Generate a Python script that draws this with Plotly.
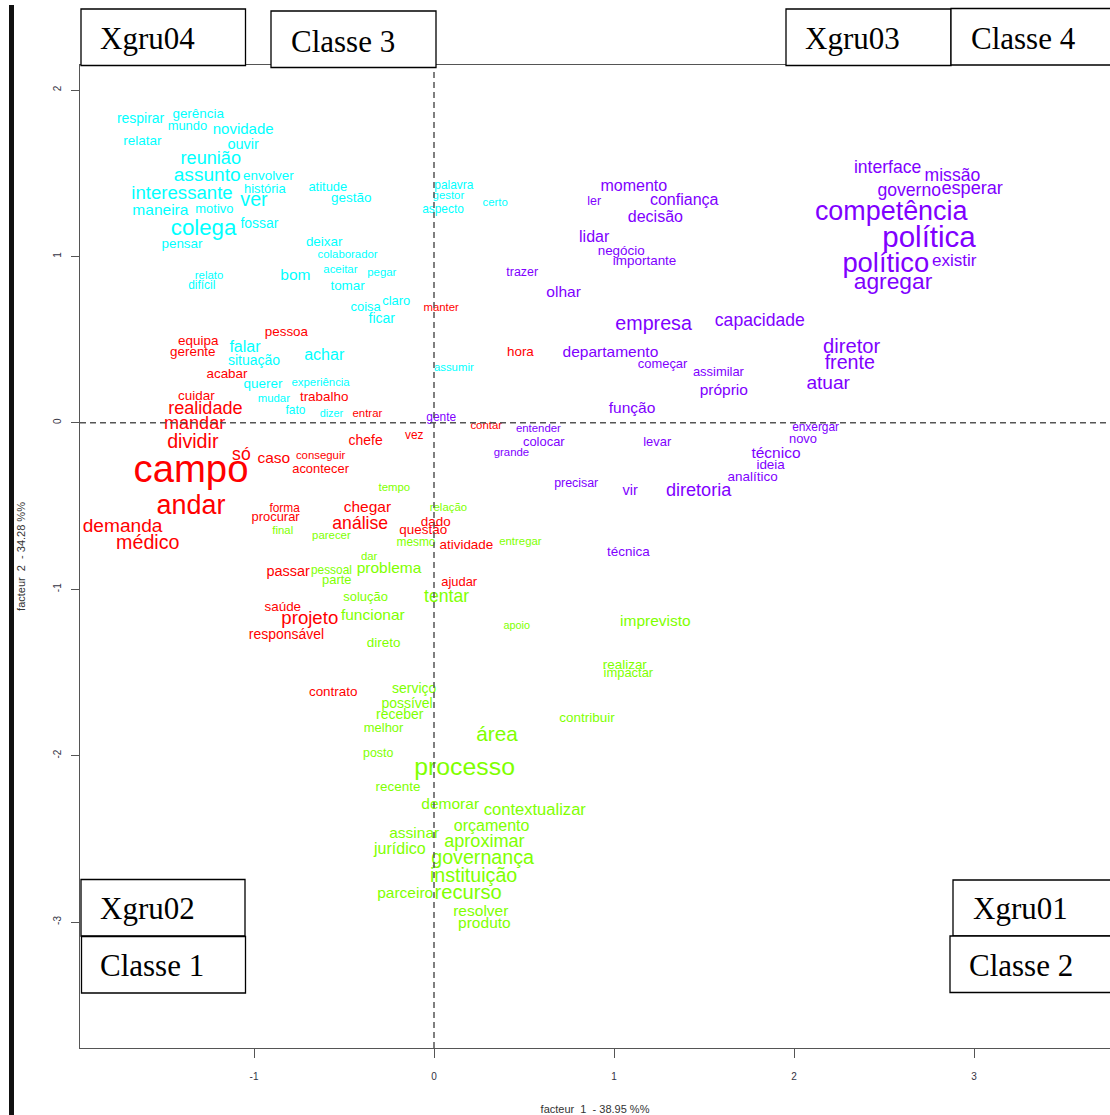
import plotly.graph_objects as go

# ---------------- data (correspondence analysis coordinates) ----------------
# Classe 1 (red)
c1_words = ["manter", "pessoa", "equipa", "gerente", "acabar", "hora", "cuidar", "trabalho",
            "realidade", "entrar", "mandar", "dividir", "vez", "chefe", "contar", "só", "caso",
            "conseguir", "acontecer", "campo", "andar", "forma", "procurar", "chegar", "demanda",
            "análise", "dado", "questão", "médico", "atividade", "passar", "ajudar", "saúde",
            "projeto", "responsável", "contrato"]
c1_x = [0.04, -0.82, -1.31, -1.34, -1.15, 0.48, -1.32, -0.61,
        -1.27, -0.37, -1.33, -1.34, -0.11, -0.38, 0.29, -1.07, -0.89,
        -0.63, -0.63, -1.35, -1.35, -0.83, -0.88, -0.37, -1.73,
        -0.41, 0.01, -0.06, -1.59, 0.18, -0.81, 0.14, -0.84,
        -0.69, -0.82, -0.56]
c1_y = [0.69, 0.54, 0.49, 0.42, 0.29, 0.42, 0.16, 0.15,
        0.08, 0.05, -0.01, -0.12, -0.08, -0.11, -0.02, -0.20, -0.22,
        -0.20, -0.28, -0.30, -0.51, -0.52, -0.57, -0.51, -0.63,
        -0.61, -0.60, -0.65, -0.73, -0.74, -0.90, -0.96, -1.11,
        -1.18, -1.28, -1.62]
c1_size = [11, 13, 13, 13, 13, 13, 13, 13,
           17.5, 11, 17.5, 19, 11.5, 13.5, 11, 17, 15,
           11, 12.5, 37, 26, 11.5, 12.5, 15, 18.5,
           17, 13, 13, 19, 13, 14, 12.5, 13,
           18, 13.5, 13]

# Classe 2 (green)
c2_words = ["tempo", "relação", "final", "parecer", "mesmo", "entregar", "dar", "pessoal",
            "problema", "parte", "solução", "tentar", "funcionar", "apoio", "imprevisto",
            "direto", "realizar", "impactar", "serviço", "possível", "receber", "melhor",
            "contribuir", "área", "posto", "processo", "recente", "demorar", "contextualizar",
            "orçamento", "assinar", "aproximar", "jurídico", "governança", "instituição",
            "parceiro", "recurso", "resolver", "produto"]
c2_x = [-0.22, 0.08, -0.84, -0.57, -0.10, 0.48, -0.36, -0.57,
        -0.25, -0.54, -0.38, 0.07, -0.34, 0.46, 1.23,
        -0.28, 1.06, 1.08, -0.11, -0.15, -0.19, -0.28,
        0.85, 0.35, -0.31, 0.17, -0.20, 0.09, 0.56,
        0.32, -0.11, 0.28, -0.19, 0.27, 0.22,
        -0.16, 0.19, 0.26, 0.28]
c2_y = [-0.39, -0.51, -0.65, -0.68, -0.72, -0.72, -0.81, -0.89,
        -0.88, -0.95, -1.05, -1.05, -1.16, -1.22, -1.20,
        -1.33, -1.46, -1.51, -1.60, -1.69, -1.76, -1.84,
        -1.78, -1.88, -1.99, -2.08, -2.19, -2.30, -2.33,
        -2.43, -2.47, -2.52, -2.57, -2.62, -2.73,
        -2.83, -2.83, -2.94, -3.01]
c2_size = [11, 11, 11, 11, 11.5, 11, 11, 11.5,
           15, 12.5, 12.5, 17, 15, 10.5, 15,
           13, 13, 12.5, 13.5, 13.5, 13.5, 12.5,
           13, 20, 12, 24, 13, 15, 16,
           15.5, 15, 17.5, 15.5, 19, 19,
           15, 19.5, 15, 15]

# Classe 3 (cyan)
c3_words = ["respirar", "gerência", "mundo", "novidade", "relatar", "ouvir", "reunião",
            "assunto", "envolver", "história", "atitude", "interessante", "gestão", "ver",
            "maneira", "motivo", "colega", "fossar", "pensar", "deixar", "colaborador",
            "aceitar", "pegar", "relato", "difícil", "bom", "tomar", "claro", "coisa",
            "ficar", "falar", "situação", "achar", "assumir", "querer", "experiência",
            "mudar", "fato", "dizer", "palavra", "gestor", "aspecto", "certo"]
c3_x = [-1.63, -1.31, -1.37, -1.06, -1.62, -1.06, -1.24,
        -1.26, -0.92, -0.94, -0.59, -1.40, -0.46, -1.00,
        -1.52, -1.22, -1.28, -0.97, -1.40, -0.61, -0.48,
        -0.52, -0.29, -1.25, -1.29, -0.77, -0.48, -0.21, -0.38,
        -0.29, -1.05, -1.00, -0.61, 0.11, -0.95, -0.63,
        -0.89, -0.77, -0.57, 0.11, 0.08, 0.05, 0.34]
c3_y = [1.82, 1.85, 1.78, 1.76, 1.69, 1.67, 1.58,
        1.48, 1.48, 1.40, 1.41, 1.37, 1.35, 1.33,
        1.27, 1.28, 1.16, 1.19, 1.07, 1.08, 1.01,
        0.92, 0.90, 0.88, 0.82, 0.88, 0.82, 0.73, 0.69,
        0.62, 0.45, 0.37, 0.40, 0.33, 0.23, 0.24,
        0.14, 0.07, 0.05, 1.42, 1.36, 1.28, 1.32]
c3_size = [13.5, 13, 12.5, 14.5, 13, 14, 17.5,
           18.5, 13, 12.5, 12.5, 18, 13, 19,
           15, 12.5, 21.5, 13.5, 13, 13, 11,
           11, 11, 11, 11.5, 15, 13, 12.5, 12.5,
           13.5, 15.5, 13.5, 15.5, 11, 13, 11,
           11, 11.5, 10.5, 11.5, 11, 11.5, 11]

# Classe 4 (purple)
c4_words = ["momento", "ler", "confiança", "decisão", "lidar", "negócio", "importante",
            "trazer", "olhar", "empresa", "capacidade", "departamento", "começar",
            "assimilar", "próprio", "função", "gente", "entender", "colocar", "grande",
            "levar", "enxergar", "novo", "técnico", "ideia", "analítico", "precisar", "vir",
            "diretoria", "técnica", "interface", "missão", "governo", "esperar",
            "competência", "política", "político", "existir", "agregar", "diretor",
            "frente", "atuar"]
c4_x = [1.11, 0.89, 1.39, 1.23, 0.89, 1.04, 1.17,
        0.49, 0.72, 1.22, 1.81, 0.98, 1.27,
        1.58, 1.61, 1.10, 0.04, 0.58, 0.61, 0.43,
        1.24, 2.12, 2.05, 1.90, 1.87, 1.77, 0.79, 1.09,
        1.47, 1.08, 2.52, 2.88, 2.64, 2.99,
        2.54, 2.75, 2.51, 2.89, 2.55, 2.32,
        2.31, 2.19]
c4_y = [1.42, 1.33, 1.33, 1.23, 1.11, 1.03, 0.97,
        0.90, 0.78, 0.59, 0.61, 0.42, 0.35,
        0.30, 0.19, 0.08, 0.03, -0.04, -0.12, -0.18,
        -0.12, -0.03, -0.10, -0.19, -0.26, -0.33, -0.37, -0.41,
        -0.41, -0.78, 1.53, 1.48, 1.39, 1.40,
        1.26, 1.10, 0.95, 0.97, 0.84, 0.45,
        0.35, 0.23]
c4_size = [15.5, 12, 15.5, 15.5, 15.5, 13, 13,
           12, 15, 19, 17, 15, 12.5,
           12.5, 15, 15, 11.5, 11, 12.5, 11,
           12.5, 11.5, 12.5, 15, 13, 13, 12, 14,
           17.5, 13, 17, 17, 17, 17.5,
           26, 28.5, 26.5, 16.5, 22, 19.5,
           19, 18.5]

x_ticks = [-1, 0, 1, 2, 3]
y_ticks = [-3, -2, -1, 0, 1, 2]
x_title = "facteur  1  - 38.95 %%"
y_title = "facteur  2  - 34.28 %%"

group_labels = ["Xgru04", "Classe 3", "Xgru03", "Classe 4",
                "Xgru02", "Classe 1", "Xgru01", "Classe 2"]

# ---------------- figure ----------------
W, H = 1110, 1115
ML, MR, MT, MB = 80, 0, 65, 67
PW, PH = W - ML - MR, H - MT - MB
SIZE_SCALE = 1.035

WORD_FONT = "Liberation Sans, Arial, sans-serif"
classes = [
    (c1_words, c1_x, c1_y, c1_size, "#FF0000"),
    (c2_words, c2_x, c2_y, c2_size, "#80FF00"),
    (c3_words, c3_x, c3_y, c3_size, "#00FFFF"),
    (c4_words, c4_x, c4_y, c4_size, "#8000FF"),
]

fig = go.Figure()
for words, xs, ys, sizes, col in classes:
    fig.add_trace(go.Scatter(
        x=xs, y=ys, mode="text", text=words,
        textposition="middle center",
        textfont=dict(size=[s * SIZE_SCALE for s in sizes], color=col, family=WORD_FONT),
        hoverinfo="skip", showlegend=False, cliponaxis=False,
    ))


def px_x(p):
    return (p - ML) / PW


def px_y(p):
    return (H - MB - p) / PH


shapes = []
# dashed reference lines
shapes.append(dict(type="line", xref="x", yref="paper", x0=0, x1=0, y0=0, y1=1,
                   line=dict(color="#555555", width=1.5, dash="6px,4px"), layer="above"))
shapes.append(dict(type="line", xref="paper", yref="y", x0=0, x1=1, y0=0, y1=0,
                   line=dict(color="#555555", width=1.5, dash="6px,4px"), layer="above"))
# black bar at far left
shapes.append(dict(type="rect", xref="paper", yref="paper",
                   x0=px_x(9), x1=px_x(14), y0=px_y(1115), y1=px_y(5),
                   fillcolor="#111111", line=dict(width=0), layer="above"))

# label boxes: (left, top, right, bottom, text_left, text_center_y)
boxes = [
    (81, 9, 245.5, 65.5, 98, 38.5),
    (271, 11, 436, 67.5, 288.5, 41.5),
    (786, 9, 951, 65.5, 803, 38.5),
    (951, 8.5, 1115, 65, 969, 38),
    (81, 879.5, 245, 936, 97.5, 908.5),
    (81.5, 936.5, 245.5, 993, 98, 965),
    (953, 880, 1115, 936, 971, 908.5),
    (950, 936, 1115, 992.5, 967, 965),
]
annotations = []
for (l, t, r, b, tx, ty), lab in zip(boxes, group_labels):
    shapes.append(dict(type="rect", xref="paper", yref="paper",
                       x0=px_x(l), x1=px_x(r), y0=px_y(b), y1=px_y(t),
                       fillcolor="white", line=dict(color="#000000", width=1.3),
                       layer="above"))
    annotations.append(dict(xref="paper", yref="paper", x=px_x(tx), y=px_y(ty),
                            xanchor="left", yanchor="middle", text=lab, showarrow=False,
                            font=dict(family="Liberation Serif, Times New Roman, serif",
                                      size=31, color="#000000")))

fig.update_layout(
    width=W, height=H,
    margin=dict(l=ML, r=MR, t=MT, b=MB, pad=0),
    paper_bgcolor="white", plot_bgcolor="white",
    shapes=shapes, annotations=annotations,
    font=dict(family=WORD_FONT, color="#333333"),
)
fig.update_xaxes(
    range=[(ML - 434) / 180, (W - 434) / 180],
    tickvals=x_ticks, ticktext=[str(v) for v in x_ticks],
    ticks="outside", ticklen=9, tickcolor="#555555", tickwidth=1,
    showline=True, linecolor="#555555", linewidth=1, mirror=True,
    showgrid=False, zeroline=False, ticklabelstandoff=10,
    tickfont=dict(size=10, color="#333344"),
    title=dict(text=x_title, font=dict(size=11, color="#333333"), standoff=24),
)
fig.update_yaxes(
    range=[(422.8 - (H - MB)) / 166.4, (422.8 - MT) / 166.4],
    tickvals=y_ticks, ticktext=[str(v) for v in y_ticks],
    ticks="outside", ticklen=8, tickcolor="#555555", tickwidth=1,
    showline=True, linecolor="#555555", linewidth=1, mirror=False,
    showgrid=False, zeroline=False, tickangle=-90, ticklabelstandoff=6,
    tickfont=dict(size=10, color="#333344"),
    title=dict(text=y_title, font=dict(size=11, color="#333333"), standoff=24),
)

fig.write_html("out.html", config={"displayModeBar": False},
               post_script="document.body.style.margin='0';document.body.style.overflow='hidden';")
